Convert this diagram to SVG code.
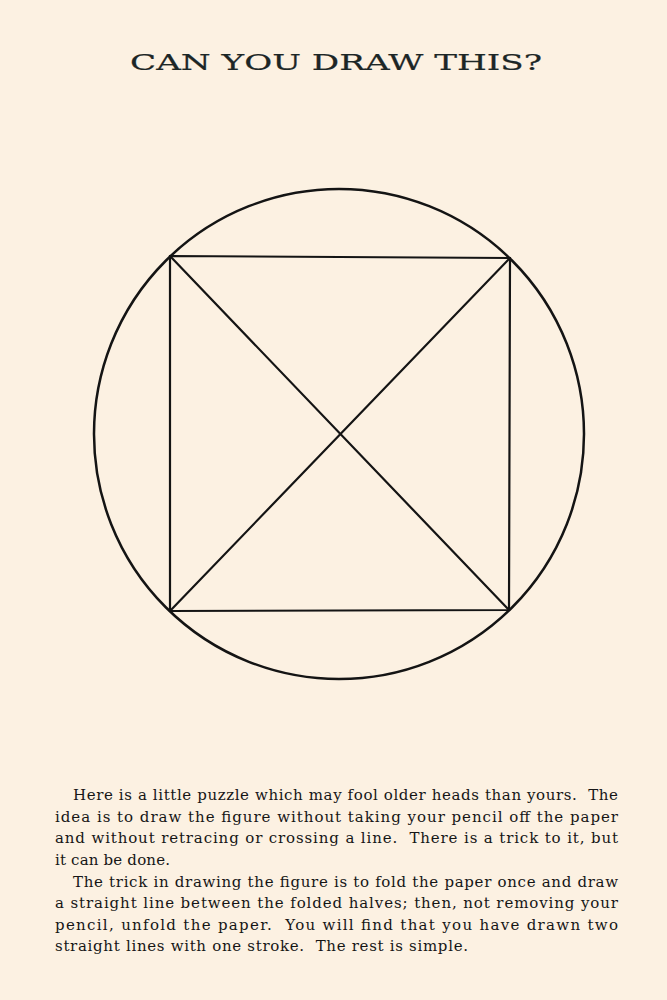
<svg xmlns="http://www.w3.org/2000/svg" width="667" height="1000" viewBox="0 0 667 1000">
<style>
.bg{fill:#fcf1e2}
.ln{fill:none;stroke:#141414;stroke-width:2.2;stroke-linecap:round}
.title{font-family:"DejaVu Serif","Liberation Serif",serif;font-size:21.5px;fill:#1c2626;stroke:#1c2626;stroke-width:0.2}
.body{font-family:"DejaVu Serif","Liberation Serif",serif;font-size:15px;fill:#161616;white-space:pre}
</style>
<rect class="bg" x="0" y="0" width="667" height="1000"/>
<g id="title"><text class="title" x="130" y="70" textLength="412" lengthAdjust="spacingAndGlyphs">CAN YOU DRAW THIS?</text></g>
<g id="figure">
<circle class="ln" cx="339" cy="434" r="245" style="stroke-width:2.5"/>
<polygon class="ln" points="170,256 510,258 509,610 170,611"/>
</g>
<g id="connectors">
<line class="ln" x1="170" y1="256" x2="509" y2="610"/>
<line class="ln" x1="510" y1="258" x2="170" y2="611"/>
</g>
<g id="text">
<text class="body" x="73" y="800" textLength="545" lengthAdjust="spacing">Here is a little puzzle which may fool older heads than yours.  The</text>
<text class="body" x="55" y="821.5" textLength="563" lengthAdjust="spacing">idea is to draw the figure without taking your pencil off the paper</text>
<text class="body" x="55" y="843" textLength="563" lengthAdjust="spacing">and without retracing or crossing a line.  There is a trick to it, but</text>
<text class="body" x="55" y="865" textLength="115" lengthAdjust="spacing">it can be done.</text>
<text class="body" x="73" y="886.5" textLength="545" lengthAdjust="spacing">The trick in drawing the figure is to fold the paper once and draw</text>
<text class="body" x="55" y="908" textLength="563" lengthAdjust="spacing">a straight line between the folded halves; then, not removing your</text>
<text class="body" x="55" y="929.5" textLength="563" lengthAdjust="spacing">pencil, unfold the paper.  You will find that you have drawn two</text>
<text class="body" x="55" y="951" textLength="413" lengthAdjust="spacing">straight lines with one stroke.  The rest is simple.</text>
</g>
</svg>
